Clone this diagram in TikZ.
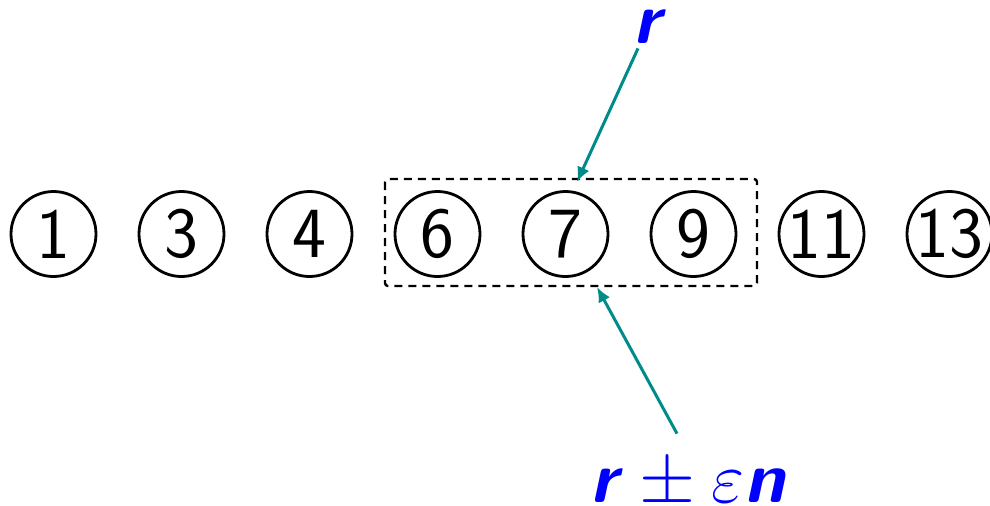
\RequirePackage{fix-cm}
\documentclass[tikz,border=0pt]{standalone}
\usepackage{fontspec}
\usepackage{xcolor}
\usepackage{tikz}
\usetikzlibrary{arrows.meta}
\usetikzlibrary{calc,positioning}

\definecolor{arrowteal}{RGB}{0,139,139}
\newcommand{\keyfont}{\sffamily\fontsize{36}{40}\selectfont}
\DeclareMathSizes{36}{36}{25}{18}

\begin{document}
\begin{tikzpicture}[x=0.5pt, y=-0.5pt,
    key/.style={circle, draw, line width=1.4pt, minimum size=42.5pt, inner sep=0pt, font=\keyfont},
    window/.style={draw, dash pattern=on 4pt off 3pt, line width=1.2pt, rounded corners=1.5pt},
    lbl/.style={text=blue, inner sep=1pt, font=\keyfont},
    pointer/.style={-{Latex[length=7.5pt,width=6.5pt]}, line width=1.5pt, draw=arrowteal}]

    \useasboundingbox (0,0) rectangle (990,505);

    % Keys
    \foreach \v [count=\i from 0] in {1,3,4,6,7,9,11,13} {
        \node[key] (k\v) at (53.5+128*\i,234) {\makebox[0pt]{\v}};
    }

    % Window
    \draw[window] (385,179) rectangle (757,286);

    % Labels
    \node[lbl, anchor=base] (r) at (650,43) {\textbf{\textit{r}}};
    \node[lbl, anchor=base] (err) at (689,502) {\textbf{\textit{r}}${}\pm\varepsilon$\textbf{\textit{n}}};

    % Arrows
    \coordinate (toptip) at (577,182);
    \coordinate (bottip) at (597,287);
    \draw[pointer] ([xshift=-6pt,yshift=-1.5pt]r.south) -- (toptip);
    \draw[pointer] ([xshift=-6pt,yshift=12pt]err.north) -- (bottip);

\end{tikzpicture}
\end{document}
